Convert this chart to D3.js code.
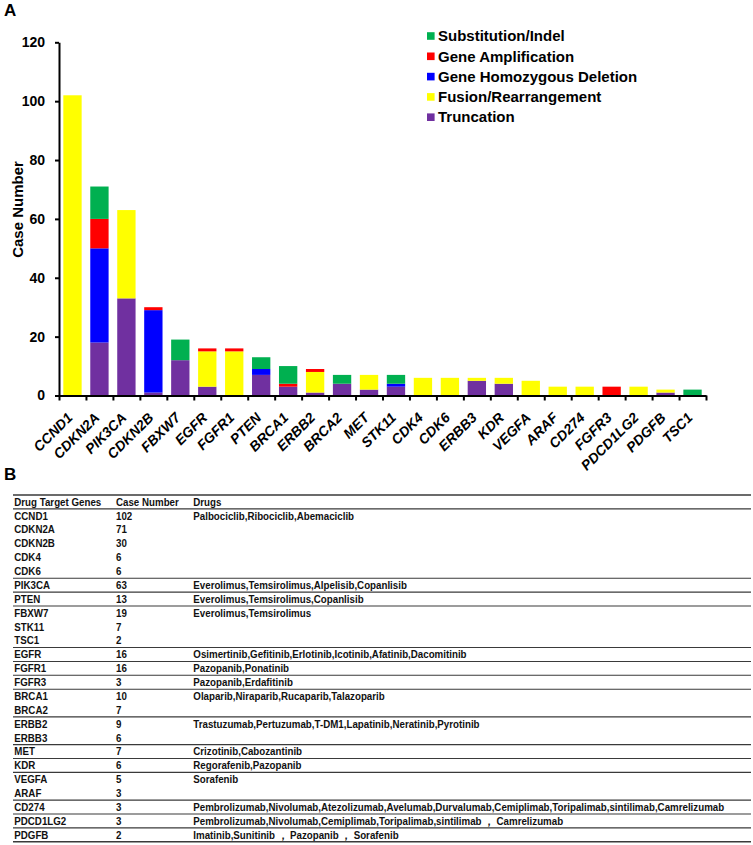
<!DOCTYPE html>
<html>
<head>
<meta charset="utf-8">
<script src="https://cdn.jsdelivr.net/npm/d3@7"></script>
<style>
  html, body { margin: 0; padding: 0; background: #fff; }
  svg { display: block; }
</style>
</head>
<body>
<svg id="chart" width="753" height="845"></svg>
<script>
// ---------------- DATA ----------------
const categories = ["CCND1","CDKN2A","PIK3CA","CDKN2B","FBXW7","EGFR","FGFR1","PTEN","BRCA1","ERBB2","BRCA2","MET","STK11","CDK4","CDK6","ERBB3","KDR","VEGFA","ARAF","CD274","FGFR3","PDCD1LG2","PDGFB","TSC1"];
const truncation    = [0,18,33,1,12,3,0,7,3,1,4,2,3,0,0,5,4,0,0,0,0,0,1,0];
const fusion        = [102,0,30,0,0,12,15,0,0,7,0,5,0,6,6,1,2,5,3,3,0,3,1,0];
const deletion      = [0,32,0,28,0,0,0,2,0,0,0,0,1,0,0,0,0,0,0,0,0,0,0,0];
const amplification = [0,10,0,1,0,1,1,0,1,1,0,0,0,0,0,0,0,0,0,0,3,0,0,0];
const substitution  = [0,11,0,0,7,0,0,4,6,0,3,0,3,0,0,0,0,0,0,0,0,0,0,2];
const seriesNames   = ["Truncation","Fusion/Rearrangement","Gene Homozygous Deletion","Gene Amplification","Substitution/Indel"];
const seriesColors  = ["#7030A0","#FFFF00","#0000FF","#FF0000","#00B050"];
const yTicks = [0,20,40,60,80,100,120];

const tableHeader = ["Drug Target Genes","Case Number","Drugs"];
const tableGenes = ["CCND1","CDKN2A","CDKN2B","CDK4","CDK6","PIK3CA","PTEN","FBXW7","STK11","TSC1","EGFR","FGFR1","FGFR3","BRCA1","BRCA2","ERBB2","ERBB3","MET","KDR","VEGFA","ARAF","CD274","PDCD1LG2","PDGFB"];
const tableCases = [102,71,30,6,6,63,13,19,7,2,16,16,3,10,7,9,6,7,6,5,3,3,3,2];
const tableDrugs = [
  "Palbociclib,Ribociclib,Abemaciclib","","","","",
  "Everolimus,Temsirolimus,Alpelisib,Copanlisib",
  "Everolimus,Temsirolimus,Copanlisib",
  "Everolimus,Temsirolimus","","",
  "Osimertinib,Gefitinib,Erlotinib,Icotinib,Afatinib,Dacomitinib",
  "Pazopanib,Ponatinib",
  "Pazopanib,Erdafitinib",
  "Olaparib,Niraparib,Rucaparib,Talazoparib","",
  "Trastuzumab,Pertuzumab,T-DM1,Lapatinib,Neratinib,Pyrotinib","",
  "Crizotinib,Cabozantinib",
  "Regorafenib,Pazopanib",
  "Sorafenib","",
  "Pembrolizumab,Nivolumab,Atezolizumab,Avelumab,Durvalumab,Cemiplimab,Toripalimab,sintilimab,Camrelizumab",
  "Pembrolizumab,Nivolumab,Cemiplimab,Toripalimab,sintilimab \uFF0C Camrelizumab",
  "Imatinib,Sunitinib \uFF0C Pazopanib \uFF0C Sorafenib"
];
// index of last row in each drug group (a rule is drawn under it)
const groupEnds = [4,5,6,9,10,11,12,14,16,17,18,20,21,22,23];

// ---------------- CHART ----------------
const svg = d3.select("#chart");
const FONT = "'Liberation Sans', Arial, Helvetica, sans-serif";

const x0 = 59, x1 = 706, yTop = 42.3, yBot = 395.5;

const x = d3.scaleBand().domain(categories).range([x0, x1]).paddingInner(0.32).paddingOuter(0.16);
const xIdx = d3.scaleLinear().domain([0, categories.length]).range([x0, x1]);
const y = d3.scaleLinear().domain([0, 120]).range([yBot, yTop]);

const rows = categories.map((c, i) => ({
  cat: c,
  "Truncation": truncation[i],
  "Fusion/Rearrangement": fusion[i],
  "Gene Homozygous Deletion": deletion[i],
  "Gene Amplification": amplification[i],
  "Substitution/Indel": substitution[i]
}));
const stacked = d3.stack().keys(seriesNames)(rows);
const color = d3.scaleOrdinal().domain(seriesNames).range(seriesColors);

// panel label A
svg.append("text").attr("x", 4).attr("y", 16).attr("font-family", FONT)
  .attr("font-weight", "bold").attr("font-size", 17).text("A");

// bars
svg.append("g").selectAll("g").data(stacked).join("g")
  .attr("fill", d => color(d.key))
  .selectAll("rect").data(d => d.map((v, i) => ({v, cat: categories[i]})))
  .join("rect")
  .attr("x", d => x(d.cat))
  .attr("width", x.bandwidth())
  .attr("y", d => y(d.v[1]))
  .attr("height", d => y(d.v[0]) - y(d.v[1]));

// y axis
const yAxis = svg.append("g").attr("transform", `translate(${x0},0)`)
  .call(d3.axisLeft(y).tickValues(yTicks).tickSize(4).tickPadding(10).tickSizeOuter(0));
yAxis.select(".domain").attr("stroke", "#000").attr("stroke-width", 2);
yAxis.selectAll(".tick line").attr("stroke", "#000").attr("stroke-width", 2);
yAxis.selectAll(".tick text").attr("font-family", FONT).attr("font-weight", "bold")
  .attr("font-size", 14).attr("fill", "#000");

// x axis: boundary ticks
const xAxisTicks = svg.append("g").attr("transform", `translate(0,${yBot})`)
  .call(d3.axisBottom(xIdx).tickValues(d3.range(0, categories.length + 1)).tickSize(5).tickSizeOuter(0).tickFormat(""));
xAxisTicks.select(".domain").attr("stroke", "#000").attr("stroke-width", 2);
xAxisTicks.selectAll(".tick line").attr("stroke", "#000").attr("stroke-width", 2);

// x axis labels
const xLab = svg.append("g").attr("transform", `translate(0,${yBot})`)
  .call(d3.axisBottom(x).tickSize(0).tickPadding(0));
xLab.select(".domain").remove();
xLab.selectAll(".tick text")
  .attr("font-family", FONT).attr("font-weight", "bold").attr("font-style", "italic")
  .attr("font-size", 14).attr("fill", "#000")
  .attr("text-anchor", "end").attr("dy", null)
  .attr("transform", "translate(1,23) rotate(-45)");

// y axis title
svg.append("text")
  .attr("transform", "translate(22.5,209.5) rotate(-90)")
  .attr("text-anchor", "middle")
  .attr("font-family", FONT).attr("font-weight", "bold").attr("font-size", 15)
  .text("Case Number");

// legend
const legendOrder = seriesNames.slice().reverse();
const leg = svg.append("g").attr("transform", "translate(427,36)");
const li = leg.selectAll("g").data(legendOrder).join("g")
  .attr("transform", (d, i) => `translate(0,${i * 20.3})`);
li.append("rect").attr("x", 0).attr("y", -3.8).attr("width", 7.6).attr("height", 7.6)
  .attr("fill", d => color(d));
li.append("text").attr("x", 11).attr("y", 5.2)
  .attr("font-family", FONT).attr("font-weight", "bold").attr("font-size", 15)
  .text(d => d);

// ---------------- TABLE ----------------
svg.append("text").attr("x", 4).attr("y", 480).attr("font-family", FONT)
  .attr("font-weight", "bold").attr("font-size", 17).text("B");

const tFont = 10.6;
const tLeft = 13, tRight = 751;
const colX = [14.3, 116, 193.3];
const row0 = 515.8, rowH = 13.87;
const rowY = i => row0 + i * rowH;

// measure scale factor so that the bold sans matches the narrower original face
const probe = svg.append("text").attr("font-family", FONT).attr("font-weight", "bold")
  .attr("font-size", tFont).text(tableHeader[0]);
const k = 87 / probe.node().getComputedTextLength();
probe.remove();

const tbl = svg.append("g");
function cell(xp, yc, txt) {
  tbl.append("text")
    .attr("transform", `translate(${xp},${yc + 3.8}) scale(${k},1)`)
    .attr("font-family", FONT).attr("font-weight", "bold").attr("font-size", tFont)
    .attr("fill", "#111").text(txt);
}
tableHeader.forEach((h, j) => cell(colX[j], rowY(-1), h));
tableGenes.forEach((g, i) => {
  cell(colX[0], rowY(i), g);
  cell(colX[1], rowY(i), String(tableCases[i]));
  if (tableDrugs[i]) cell(colX[2], rowY(i), tableDrugs[i]);
});

function rule(yy, w) {
  tbl.append("line").attr("x1", tLeft).attr("x2", tRight).attr("y1", yy).attr("y2", yy)
    .attr("stroke", "#3a3a3a").attr("stroke-width", w);
}
rule(rowY(-1) - rowH / 2, 1.5);
rule(rowY(-1) + rowH / 2, 1.1);
groupEnds.forEach(i => rule(rowY(i) + rowH / 2, i === categories.length - 1 ? 1.5 : 1.1));
</script>
</body>
</html>
